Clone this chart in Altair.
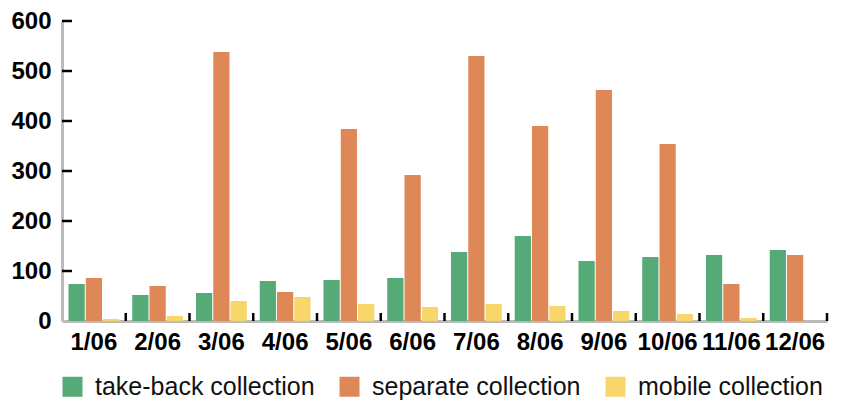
import altair as alt
import pandas as pd

months = ["1/06", "2/06", "3/06", "4/06", "5/06", "6/06", "7/06", "8/06", "9/06", "10/06", "11/06", "12/06"]
series = ["take-back collection", "separate collection", "mobile collection"]
take_back = [74, 52, 56, 80, 82, 86, 138, 170, 120, 128, 132, 142]
separate = [86, 70, 538, 58, 384, 292, 530, 390, 462, 354, 74, 132]
mobile = [4, 10, 40, 48, 34, 28, 34, 30, 20, 14, 6, 0]
y_ticks = [100, 200, 300, 400, 500, 600]
colors = ["#55AA77", "#DF8857", "#F8D66A"]

rows = []
for vals, name in zip([take_back, separate, mobile], series):
    for m, v in zip(months, vals):
        rows.append({"month": m, "series": name, "value": v})
df = pd.DataFrame(rows)
df_months = pd.DataFrame({"month": months})
df_yt = pd.DataFrame({"v": y_ticks})

FONT = "Liberation Sans, Arial, sans-serif"

x_enc = alt.X("month:N", sort=months, title=None,
              scale=alt.Scale(paddingInner=0, paddingOuter=0),
              axis=alt.Axis(labelAngle=0, ticks=False, domainColor="#bbbbbb", domainWidth=3,
                            labelFontSize=24, labelFontWeight="bold", labelColor="#000000",
                            labelPadding=9, labelFont=FONT, labelLimit=0))
y_scale = alt.Scale(domain=[0, 600], nice=False)

bars = alt.Chart(df).mark_bar().encode(
    x=x_enc,
    xOffset=alt.XOffset("series:N", sort=series,
                        scale=alt.Scale(paddingInner=0.06, paddingOuter=0.375)),
    y=alt.Y("value:Q", scale=y_scale, title=None,
            axis=alt.Axis(values=[0, 100, 200, 300, 400, 500, 600], ticks=False, grid=False,
                          domainColor="#bbbbbb", domainWidth=3, labelFontSize=24,
                          labelFontWeight="bold", labelColor="#000000", labelPadding=11,
                          labelFont=FONT, labelLimit=0)),
    color=alt.Color("series:N", sort=series,
                    scale=alt.Scale(domain=series, range=colors),
                    legend=alt.Legend(title=None, orient="none", direction="horizontal",
                                      legendX=-2, legendY=353, symbolType="square",
                                      symbolSize=400, symbolStrokeWidth=0, symbolOpacity=1,
                                      labelFontSize=25, labelFont=FONT, labelColor="#111111",
                                      labelOffset=10, columnPadding=22, padding=0,
                                      labelLimit=0)),
)

xticks = alt.Chart(df_months).mark_rule(color="#000000", strokeWidth=2.5).encode(
    x=alt.X("month:N", sort=months, bandPosition=1),
    y=alt.value(292),
    y2=alt.value(300),
)

yticks = alt.Chart(df_yt).mark_rule(color="#000000", strokeWidth=2.5).encode(
    y=alt.Y("v:Q", scale=y_scale),
    x=alt.value(0),
    x2=alt.value(10),
)

chart = alt.layer(bars, xticks, yticks).properties(
    width=765, height=300,
    autosize=alt.AutoSizeParams(type="none"),
    padding={"left": 54, "top": 13, "right": 6, "bottom": 80},
).configure_view(stroke=None).configure_axis(labelFont=FONT).configure_legend(labelFont=FONT)

chart.save("out.html", embed_options={"renderer": "svg", "actions": False})
